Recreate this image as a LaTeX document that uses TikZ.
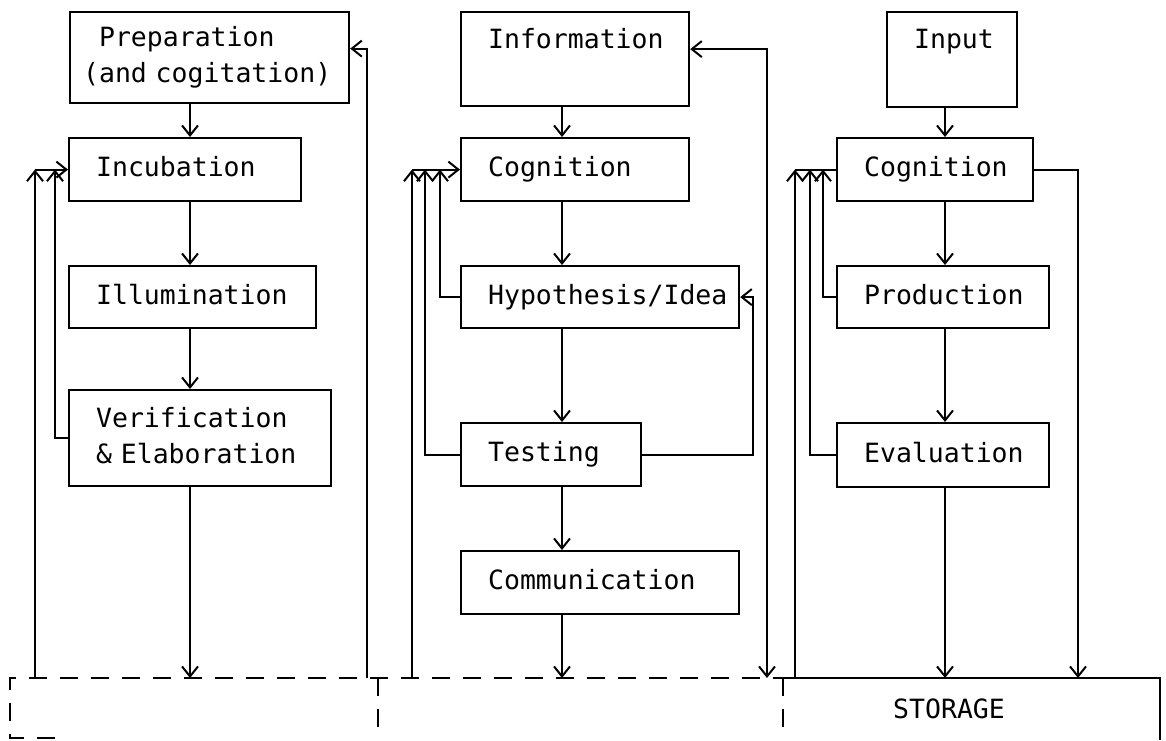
\documentclass[tikz,border=0pt]{standalone}
\usepackage{fontspec}
\newfontfamily\typefont[HyphenChar=None]{DejaVu Sans Mono}
\usetikzlibrary{arrows.meta}

\tikzset{
  barb/.tip={Straight Barb[length=10pt,width=16pt]},
  stage/.style={draw, line width=2.2pt, anchor=north west, align=left,
    inner xsep=27pt, inner ysep=0pt,
    font=\typefont\fontsize{26.5pt}{36pt}\selectfont,
    execute at begin node=\strut, execute at end node=\strut},
  line/.style={line width=2pt},
  flow/.style={line, -barb},
  twoway/.style={line, barb-barb},
  dashline/.style={line width=2pt, dash pattern=on 18pt off 13pt}
}

\begin{document}
\begin{tikzpicture}[x=1pt, y=-1pt]
    \useasboundingbox (0,0) rectangle (1166,740);

    % column axes, feedback rails and the storage line
    \coordinate (base) at (0,678);
    \coordinate (axL) at (190,0);
    \coordinate (axM) at (562,0);
    \coordinate (axR) at (945,0);
    \coordinate (fbLa) at (35,0);
    \coordinate (fbLb) at (55,0);
    \coordinate (fbLc) at (367,0);
    \coordinate (fbMa) at (412,0);
    \coordinate (fbMb) at (425,0);
    \coordinate (fbMc) at (440,0);
    \coordinate (fbMd) at (753,0);
    \coordinate (fbMe) at (767,0);
    \coordinate (fbRa) at (795,0);
    \coordinate (fbRb) at (810,0);
    \coordinate (fbRc) at (823,0);
    \coordinate (fbRd) at (1078,0);

    % left column
    \node[stage, inner xsep=13pt, text width=253pt, minimum height=91pt] (prep) at (69,11) {\phantom{(}Preparation\\(and~cogitation)};
    \node[stage, text width=178pt, minimum height=63pt] (incub) at (68,137) {Incubation};
    \node[stage, text width=193pt, minimum height=62pt] (illum) at (68,265) {Illumination};
    \node[stage, text width=208pt, minimum height=96pt] (verif) at (68,389) {Verification\\\&~Elaboration};

    % middle column
    \node[stage, text width=174pt, minimum height=94pt] (info) at (460,11) {Information\\\mbox{}};
    \node[stage, text width=174pt, minimum height=63pt] (cogA) at (460,137) {Cognition};
    \node[stage, text width=224pt, minimum height=62pt] (hypo) at (460,265) {Hypothesis/Idea};
    \node[stage, text width=126pt, minimum height=63pt] (test) at (460,422) {Testing};
    \node[stage, text width=224pt, minimum height=63pt] (comm) at (460,550) {Communication};

    % right column
    \node[stage, text width=76pt, minimum height=95pt] (input) at (886,11) {Input\\\mbox{}};
    \node[stage, text width=142pt, minimum height=63pt] (cogB) at (836,137) {Cognition};
    \node[stage, text width=158pt, minimum height=62pt] (prod) at (836,265) {Production};
    \node[stage, text width=158pt, minimum height=64pt] (eval) at (836,422) {Evaluation};

    % storage row
    \draw[dashline] (55,738) -- (10,738) -- (10,678) -- (783,678);
    \draw[dashline] (378,678) -- (378,740);
    \draw[dashline] (783,678) -- (783,740);
    \draw[line] (783,678) -- (1160,678) -- (1160,740);
    \node[font=\typefont\fontsize{26.5pt}{36pt}\selectfont, anchor=base west, inner sep=0pt] (storage) at (893,718) {STORAGE};

    % left column flow
    \draw[flow] (prep.south -| axL) -- (incub.north -| axL);
    \draw[flow] (incub.south -| axL) -- (illum.north -| axL);
    \draw[flow] (illum.south -| axL) -- (verif.north -| axL);
    \draw[flow] (verif.south -| axL) -- (axL |- base);
    \draw[flow] (fbLa |- base) -- (fbLa |- incub.west);
    \draw[flow] (fbLa |- incub.west) -- (incub.west);
    \draw[flow] (verif.west) -| (fbLb |- incub.west);
    \draw[flow] (fbLc |- base) |- ([yshift=9pt]prep.east);

    % middle column flow
    \draw[flow] (info.south -| axM) -- (cogA.north -| axM);
    \draw[flow] (cogA.south -| axM) -- (hypo.north -| axM);
    \draw[flow] (hypo.south -| axM) -- (test.north -| axM);
    \draw[flow] (test.south -| axM) -- (comm.north -| axM);
    \draw[flow] (comm.south -| axM) -- (axM |- base);
    \draw[flow] (fbMa |- base) -- (fbMa |- cogA.west);
    \draw[flow] (fbMa |- cogA.west) -- (cogA.west);
    \draw[flow] (test.west) -| (fbMb |- cogA.west);
    \draw[flow] (hypo.west) -| (fbMc |- cogA.west);
    \draw[flow] (test.east) -| (fbMd |- hypo.east) -- (hypo.east);
    \draw[twoway] (fbMe |- base) |- ([yshift=10pt]info.east);

    % right column flow
    \draw[flow] (input.south -| axR) -- (cogB.north -| axR);
    \draw[flow] (cogB.south -| axR) -- (prod.north -| axR);
    \draw[flow] (prod.south -| axR) -- (eval.north -| axR);
    \draw[flow] (eval.south -| axR) -- (axR |- base);
    \draw[flow] (cogB.east) -| (fbRd |- base);
    \draw[flow] (fbRa |- base) -- (fbRa |- cogB.west);
    \draw[line] (fbRa |- cogB.west) -- (cogB.west);
    \draw[flow] (prod.west) -| (fbRc |- cogB.west);
    \draw[flow] (eval.west) -| (fbRb |- cogB.west);
\end{tikzpicture}
\end{document}
